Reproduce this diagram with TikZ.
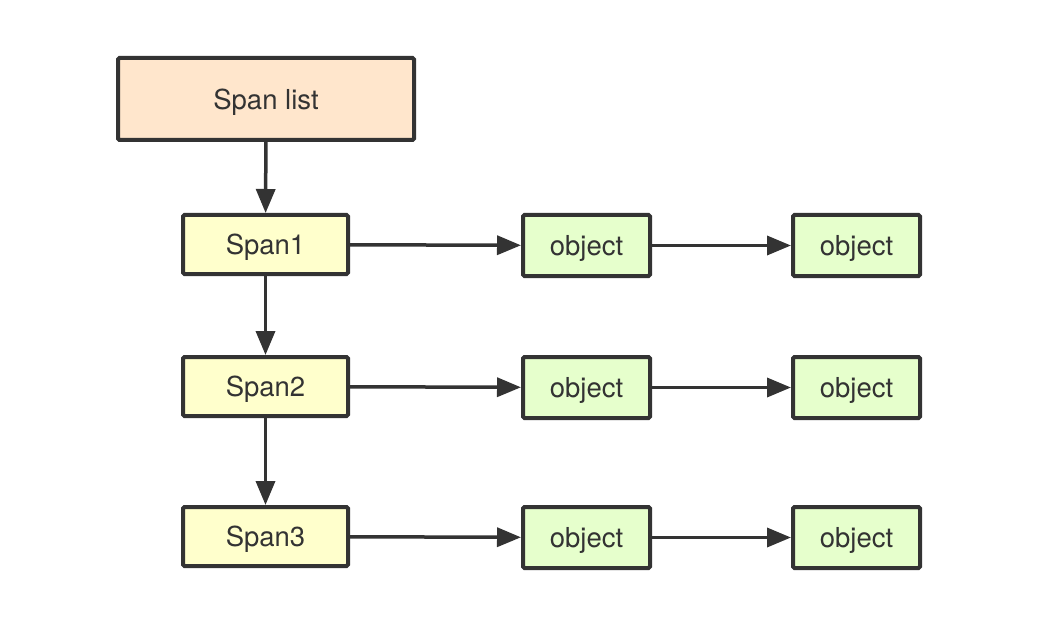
\documentclass[tikz,border=0pt]{standalone}
\usepackage{fontspec}
\setmainfont{TeX Gyre Heros}
\usetikzlibrary{arrows.meta}
\definecolor{listfill}{HTML}{FFE6CC}
\definecolor{spanfill}{HTML}{FFFFCC}
\definecolor{objfill}{HTML}{E6FFCC}
\definecolor{edge}{HTML}{333333}
\begin{document}
\begin{tikzpicture}[x=1pt, y=-1pt,
    box/.style={draw=edge, line width=4pt, rounded corners=1.5pt, inner sep=0pt,
        font=\fontsize{27.5}{32}\selectfont, text=edge, text depth=0pt},
    listbox/.style={box, fill=listfill, minimum width=296pt, minimum height=82pt},
    spanbox/.style={box, fill=spanfill, minimum width=165pt, minimum height=59pt},
    objbox/.style={box, fill=objfill, minimum width=127pt, minimum height=61pt},
    link/.style={draw=edge, line width=3.5pt, -{Triangle[length=24pt, width=19pt]}}]

        \useasboundingbox (0,0) rectangle (1056,620);

        % Span list
        \node[listbox] (list) at (266,99) {Span list};

        % Spans
        \node[spanbox] (span1) at (265.5,244.5) {Span1};
        \node[spanbox] (span2) at (265.5,386.5) {Span2};
        \node[spanbox] (span3) at (265.5,536.5) {Span3};

        % Objects
        \node[objbox] (obj1a) at (586.5,245.5) {object};
        \node[objbox] (obj1b) at (856.5,245.5) {object};
        \node[objbox] (obj2a) at (586.5,387.5) {object};
        \node[objbox] (obj2b) at (856.5,387.5) {object};
        \node[objbox] (obj3a) at (586.5,537.5) {object};
        \node[objbox] (obj3b) at (856.5,537.5) {object};

        % Down the list
        \draw[link] (list) -- (span1);
        \draw[link] (span1) -- (span2);
        \draw[link] (span2) -- (span3);

        % Along each span
        \draw[link] (span1) -- (obj1a);
        \draw[link] (obj1a) -- (obj1b);
        \draw[link] (span2) -- (obj2a);
        \draw[link] (obj2a) -- (obj2b);
        \draw[link] (span3) -- (obj3a);
        \draw[link] (obj3a) -- (obj3b);

    \end{tikzpicture}
\end{document}
